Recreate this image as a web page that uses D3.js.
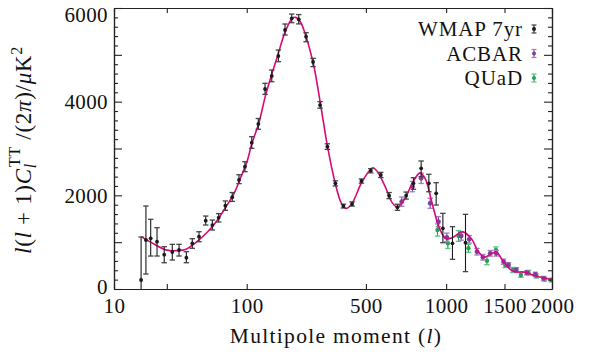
<!DOCTYPE html>
<html>
<head>
<meta charset="utf-8">
<script src="https://cdn.jsdelivr.net/npm/d3@7"></script>
<style>
  html, body { margin: 0; padding: 0; background: #fff; }
  svg { display: block; }
  svg text, svg tspan { font-family: "Liberation Serif", "Times New Roman", serif; fill: #111; }
</style>
</head>
<body>
<svg id="chart" width="591" height="354"></svg>
<script>
// Best-fit ΛCDM temperature spectrum, D_l = l(l+1)C_l/2π in μK²
const modelL = [16, 20, 25, 30, 35, 40, 50, 60, 70, 80, 90, 100, 110, 125, 140, 155, 170, 190, 210, 220, 235, 255, 280, 305, 330, 360, 385, 405, 430, 480, 535, 560, 600, 640, 672, 720, 770, 815, 850, 900, 950, 1000, 1050, 1130, 1200, 1260, 1310, 1360, 1420, 1480, 1550, 1600, 1700, 1800, 1900, 2000];
const modelD = [1117, 960, 830, 820, 850, 960, 1200, 1470, 1760, 2030, 2380, 2700, 3100, 3560, 4150, 4600, 5000, 5500, 5780, 5800, 5700, 5350, 4750, 3900, 3050, 2280, 1850, 1720, 1800, 2280, 2590, 2500, 2200, 1850, 1750, 1950, 2300, 2480, 2350, 1800, 1300, 1070, 1100, 1220, 1080, 800, 680, 730, 790, 620, 430, 370, 360, 290, 240, 200];

// WMAP 7-year binned band powers: [l, D_l, lower, upper]
const wmap = [
  [16, 192, -300, 1110], [17.4, 1046, 320, 1772], [18.9, 1082, 704, 1488],
  [21.1, 1010, 704, 1309], [23.9, 732, 561, 903], [27.5, 790, 619, 954],
  [30.9, 833, 704, 954], [35.1, 668, 561, 796], [38.9, 975, 869, 1074],
  [43.7, 1117, 1010, 1223], [49.1, 1458, 1366, 1558], [55.1, 1366, 1260, 1473],
  [61.5, 1522, 1430, 1610], [69, 1778, 1680, 1880], [77.8, 1960, 1870, 2060],
  [87.5, 2330, 2250, 2440], [97, 2611, 2505, 2718], [109.8, 3124, 3004, 3252],
  [123.5, 3523, 3410, 3640], [138.4, 4270, 4157, 4392], [154.4, 4548, 4426, 4676],
  [171.2, 4975, 4853, 5103], [189.2, 5530, 5423, 5658], [208.4, 5780, 5686, 5871],
  [229.6, 5758, 5660, 5860], [253.2, 5388, 5280, 5472], [277, 4847, 4748, 4925],
  [302, 3928, 3860, 4000], [329.7, 3038, 2980, 3100], [361.6, 2257, 2200, 2310],
  [395.3, 1772, 1730, 1810], [434, 1815, 1770, 1860], [478, 2306, 2260, 2350],
  [524.7, 2526, 2480, 2570], [577.5, 2434, 2380, 2490], [623.7, 1992, 1930, 2060],
  [672, 1744, 1680, 1810], [725, 1992, 1920, 2070], [771.4, 2257, 2129, 2376],
  [822, 2577, 2398, 2733], [874.6, 2257, 2077, 2449], [926.5, 2043, 1793, 2270],
  [975.5, 1296, 989, 1616], [1048.5, 975, 634, 1331], [1152.5, 989, 371, 1594]
];

// ACBAR band powers: [l, D_l, sigma]
const acbar = [
  [698, 1864, 100], [765, 2186, 110], [822, 2363, 110], [884, 1830, 107],
  [943, 1437, 107], [1005, 1104, 90], [1118, 1132, 90], [1183, 1061, 80],
  [1249, 796, 70], [1301, 677, 60], [1367, 762, 60], [1422, 762, 60],
  [1491, 583, 55], [1539, 512, 50], [1616, 406, 50], [1725, 348, 45],
  [1814, 314, 45], [1905, 228, 40]
];

// QUaD band powers: [l, D_l, sigma]
const quad = [
  [936, 1260, 130], [1013, 975, 110], [1096, 1132, 115], [1177, 869, 85],
  [1337, 604, 85], [1419, 833, 65], [1507, 512, 55], [1582, 406, 55],
  [1663, 299, 50], [1742, 348, 50], [1825, 278, 45], [1916, 207, 40], [1992, 192, 40]
];

const xTickValues = [10, 25, 100, 500, 1000, 1500, 2000];
const xTickLabels = ["10", "", "100", "500", "1000", "1500", "2000"];
const yMajorTicks = [0, 1000, 2000, 3000, 4000, 5000, 6000];
const yLabelTicks = [0, 2000, 4000, 6000];

const legendNames = ["WMAP 7yr", "ACBAR", "QUaD"];
const colors = { wmap: "#1a1a1a", acbar: "#7b3f9e", quad: "#22a34f", model: "#d8097a" };
const SERIF = '"Liberation Serif", "Times New Roman", serif';

const W = 591, H = 354;
const margin = { top: 8, right: 39, bottom: 65, left: 114 };
const x0 = margin.left, x1 = W - margin.right;
const y0 = H - margin.bottom, y1 = margin.top;

// Hybrid multipole axis: logarithmic up to l = 100, l^0.4 above
function hybridScale(range) {
  const [a, b] = range;
  const xb = a + 0.303 * (b - a);
  const lo = d3.scaleLog().domain([10, 100]).range([a, xb]);
  const hi = d3.scalePow().exponent(0.4).domain([100, 2000]).range([xb, b]);
  const s = l => (l < 100 ? lo(l) : hi(l));
  s.domain = () => [10, 2000];
  s.range = () => [a, b];
  s.copy = () => hybridScale(range);
  return s;
}

const x = hybridScale([x0, x1]);
const y = d3.scaleLinear().domain([0, 6000]).range([y0, y1]);

const svg = d3.select("#chart");

svg.append("defs").append("clipPath").attr("id", "plot-clip")
  .append("rect").attr("x", x0).attr("y", y1).attr("width", x1 - x0).attr("height", y0 - y1);

const plot = svg.append("g").attr("clip-path", "url(#plot-clip)");

function errorBars(g, rows, color, capColor, lowFn, highFn, r) {
  const cap = 2.7;
  const grp = g.append("g");
  rows.forEach(d => {
    const cx = x(d[0]);
    const yl = y(lowFn(d)), yh = y(highFn(d));
    grp.append("line").attr("x1", cx).attr("x2", cx).attr("y1", yl).attr("y2", yh)
      .attr("stroke", color).attr("stroke-width", 1.1);
    [yl, yh].forEach(yy => grp.append("line")
      .attr("x1", cx - cap).attr("x2", cx + cap).attr("y1", yy).attr("y2", yy)
      .attr("stroke", capColor).attr("stroke-width", 1.3));
    grp.append("circle").attr("cx", cx).attr("cy", y(d[1])).attr("r", r).attr("fill", color);
  });
}

// QUaD and ACBAR band powers
errorBars(plot, quad, colors.quad, "#5cc47f", d => d[1] - d[2], d => d[1] + d[2], 2.2);
errorBars(plot, acbar, colors.acbar, "#a07cc0", d => d[1] - d[2], d => d[1] + d[2], 2.4);

// Model curve
const line = d3.line()
  .x((d, i) => x(modelL[i]))
  .y(d => y(d))
  .curve(d3.curveCatmullRom.alpha(0.5));
plot.append("path").datum(modelD).attr("d", line)
  .attr("fill", "none").attr("stroke", colors.model).attr("stroke-width", 1.6);

// WMAP band powers
errorBars(plot, wmap, colors.wmap, "#444", d => d[2], d => d[3], 1.9);

// Axes with inward ticks on all four sides
const axG = svg.append("g").attr("class", "axes");
const fmt = d => xTickLabels[xTickValues.indexOf(d)];

axG.append("g").attr("transform", `translate(0,${y0})`)
  .call(d3.axisBottom(x).tickValues(xTickValues).tickFormat(fmt).tickSizeInner(-5).tickSizeOuter(0).tickPadding(9));
axG.append("g").attr("transform", `translate(0,${y1})`)
  .call(d3.axisTop(x).tickValues(xTickValues).tickFormat("").tickSizeInner(-5).tickSizeOuter(0));

const yMinor = d3.range(0, 6001, 200).filter(v => v % 1000 !== 0);
const yLeft = axG.append("g").attr("transform", `translate(${x0},0)`)
  .call(d3.axisLeft(y).tickValues(yMajorTicks).tickFormat(d => yLabelTicks.includes(d) ? d : "")
    .tickSizeInner(-8).tickSizeOuter(0).tickPadding(6));
axG.append("g").attr("transform", `translate(${x0},0)`)
  .call(d3.axisLeft(y).tickValues(yMinor).tickFormat("").tickSizeInner(-4).tickSizeOuter(0));
axG.append("g").attr("transform", `translate(${x1},0)`)
  .call(d3.axisRight(y).tickValues(yMajorTicks).tickFormat("").tickSizeInner(-8).tickSizeOuter(0));
axG.append("g").attr("transform", `translate(${x1},0)`)
  .call(d3.axisRight(y).tickValues(yMinor).tickFormat("").tickSizeInner(-4).tickSizeOuter(0));

axG.selectAll("g").attr("font-family", SERIF);
axG.selectAll("path.domain").attr("stroke", "#222").attr("stroke-width", 1.2);
axG.selectAll(".tick line").attr("stroke", "#222").attr("stroke-width", 1.1);
axG.selectAll(".tick text")
  .attr("font-family", SERIF).attr("font-size", 21).attr("fill", "#111")
  .attr("letter-spacing", 0.4);
// keep the top label inside the frame
yLeft.selectAll(".tick text").filter(d => d === 6000).attr("dy", "0.62em");
yLeft.selectAll(".tick text").filter(d => d === 0).attr("dy", "0.2em");

// Axis titles
const xt = svg.append("text").attr("x", (x0 + x1) / 2 + 3).attr("y", 343)
  .attr("text-anchor", "middle").attr("font-size", 21.5).attr("font-family", SERIF)
  .attr("letter-spacing", 1.3).style("font-family", SERIF);
xt.append("tspan").text("Multipole moment (");
xt.append("tspan").attr("font-style", "italic").text("l");
xt.append("tspan").text(")");

const yt = svg.append("text").attr("transform", "translate(31,150) rotate(-90)")
  .attr("text-anchor", "middle").attr("font-size", 23).attr("font-family", SERIF)
  .attr("letter-spacing", 0.7).style("font-family", SERIF);
yt.append("tspan").attr("font-style", "italic").text("l");
yt.append("tspan").text("(");
yt.append("tspan").attr("font-style", "italic").text("l");
yt.append("tspan").text(" + 1)");
yt.append("tspan").attr("font-style", "italic").text("C");
yt.append("tspan").attr("font-style", "italic").attr("font-size", 16).attr("dy", 5).text("l");
yt.append("tspan").attr("font-size", 16).attr("dx", -4).attr("dy", -16).text("TT");
yt.append("tspan").attr("dy", 11).text(" /(2");
yt.append("tspan").attr("font-style", "italic").text("π");
yt.append("tspan").text(")/");
yt.append("tspan").attr("font-style", "italic").text("μ");
yt.append("tspan").text("K");
yt.append("tspan").attr("font-size", 16).attr("dy", -9).text("2");

// Legend
const legend = svg.append("g").attr("font-family", SERIF);
const legendColors = [colors.wmap, colors.acbar, colors.quad];
const legendCaps = ["#444", "#a07cc0", "#5cc47f"];
legendNames.forEach((name, i) => {
  const cy = 29 + i * 24.5;
  legend.append("text").attr("x", 523).attr("y", cy + 7).attr("text-anchor", "end")
    .attr("font-size", 21).attr("font-family", SERIF).attr("letter-spacing", 0.9).text(name);
  const mx = 534;
  legend.append("line").attr("x1", mx).attr("x2", mx).attr("y1", cy - 4).attr("y2", cy + 4)
    .attr("stroke", legendColors[i]).attr("stroke-width", 1.1);
  [cy - 4, cy + 4].forEach(yy => legend.append("line")
    .attr("x1", mx - 2.5).attr("x2", mx + 2.5).attr("y1", yy).attr("y2", yy)
    .attr("stroke", legendCaps[i]).attr("stroke-width", 1.2));
  legend.append("circle").attr("cx", mx).attr("cy", cy).attr("r", 2).attr("fill", legendColors[i]);
});
</script>
</body>
</html>
